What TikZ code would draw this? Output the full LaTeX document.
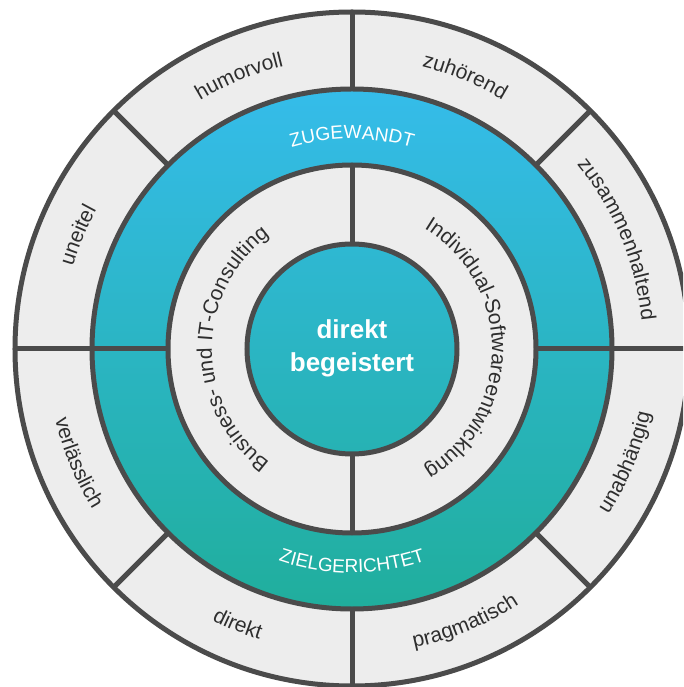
\documentclass[tikz,border=0pt]{standalone}
\usepackage{fontspec}
\setmainfont{Liberation Sans}
\usetikzlibrary{decorations.text}

\definecolor{ringgray}{HTML}{EDEDED}
\definecolor{edge}{HTML}{4B4B4B}
\definecolor{wordgray}{HTML}{2E2E2E}
\definecolor{gradtop}{HTML}{35BCEA}
\definecolor{gradbot}{HTML}{20AE9C}

\newcommand\wordsize{\fontsize{21pt}{21pt}\selectfont}
\newcommand\bandsize{\fontsize{19pt}{19pt}\selectfont}

\tikzset{
  outline/.style={draw=edge, line width=5pt},
  divider/.style={draw=edge, line width=5pt},
  arcword/.style={decorate, decoration={text along path, text align=center,
      text color=wordgray, text={|\wordsize|#1}}},
  bandword/.style={decorate, decoration={text along path, text align=center,
      text color=white, text={|\bandsize|#1}}},
  coreword/.style={text=white, font=\bfseries\fontsize{26pt}{26pt}\selectfont, anchor=base, inner sep=0pt}
}

\begin{document}
\begin{tikzpicture}[x=1pt, y=1pt]
  \useasboundingbox (-352,-338) rectangle (331,349);
  \clip (-352,-338) rectangle (331,349);

  % grey base disc
  \fill[ringgray] (0,0) circle[radius=337pt];

  % gradient band and core
  \begin{scope}[even odd rule]
    \clip (0,0) circle[radius=260pt] (0,0) circle[radius=184pt]
          (0,0) circle[radius=105pt];
    \shade[top color=gradtop, bottom color=gradbot] (-262,-262) rectangle (262,262);
  \end{scope}

  % rings
  \draw[outline] (0,0) circle[radius=337pt];
  \draw[outline] (0,0) circle[radius=260pt];
  \draw[outline] (0,0) circle[radius=184pt];
  \draw[outline] (0,0) circle[radius=105pt];

  % outer ring dividers
  \foreach \a in {0,45,...,315}
    \draw[divider] (\a:260pt) -- (\a:337pt);
  % band dividers
  \draw[divider] (0:184pt) -- (0:260pt);
  \draw[divider] (180:184pt) -- (180:260pt);
  % inner ring dividers
  \draw[divider] (90:105pt) -- (90:184pt);
  \draw[divider] (270:105pt) -- (270:184pt);

  % outer words, upper half (clockwise)
  \path[arcword={humorvoll}] (142.5:291pt) arc[start angle=142.5, end angle=82.5, radius=291pt];
  \path[arcword={zuhörend}] (97.5:291pt) arc[start angle=97.5, end angle=37.5, radius=291pt];
  \path[arcword={zusammenhaltend}] (52.5:291pt) arc[start angle=52.5, end angle=-7.5, radius=291pt];
  \path[arcword={uneitel}] (187.5:291pt) arc[start angle=187.5, end angle=127.5, radius=291pt];
  % outer words, lower half (counter-clockwise)
  \path[arcword={unabhängig}] (-52.5:305pt) arc[start angle=-52.5, end angle=7.5, radius=305pt];
  \path[arcword={pragmatisch}] (-97.5:305pt) arc[start angle=-97.5, end angle=-37.5, radius=305pt];
  \path[arcword={direkt}] (-142.5:305pt) arc[start angle=-142.5, end angle=-82.5, radius=305pt];
  \path[arcword={verlässlich}] (-187.5:305pt) arc[start angle=-187.5, end angle=-127.5, radius=305pt];

  % band words
  \path[bandword={ZUGEWANDT}] (140:210pt) arc[start angle=140, end angle=40, radius=210pt];
  \path[bandword={ZIELGERICHTET}] (-140:224pt) arc[start angle=-140, end angle=-40, radius=224pt];

  % inner ring words
  \path[arcword={Business- und IT-Consulting}] (260:140pt) arc[start angle=260, end angle=100, radius=140pt];
  \path[arcword={Individual-Softwareentwicklung}] (80:140pt) arc[start angle=80, end angle=-80, radius=140pt];

  % core
  \node[coreword] (core1) at (0,10) {direkt};
  \node[coreword] (core2) at (0,-23) {begeistert};
\end{tikzpicture}
\end{document}
